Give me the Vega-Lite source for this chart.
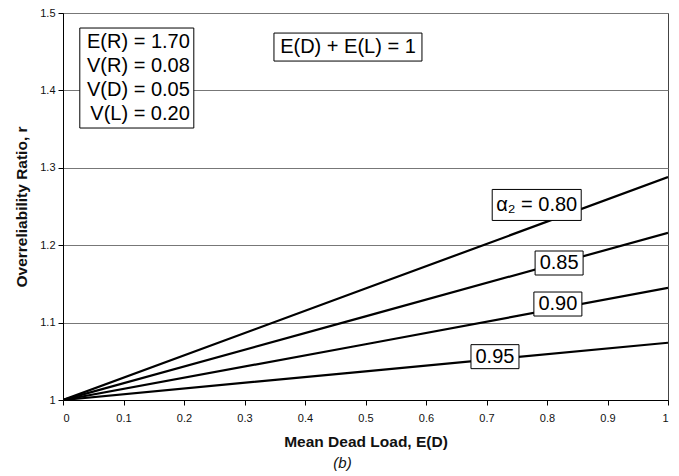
{
  "$schema": "https://vega.github.io/schema/vega-lite/v6.json",
  "width": 605,
  "height": 387,
  "autosize": "none",
  "padding": {"left": 63, "top": 13, "right": 11, "bottom": 76},
  "background": "white",
  "config": {
    "font": "Liberation Sans",
    "view": {"stroke": "#444", "strokeWidth": 1},
    "axis": {"labelFont": "Liberation Sans", "titleFont": "Liberation Sans", "labelColor": "#111", "titleColor": "#111", "domainColor": "#000", "tickColor": "#000"}
  },
  "title": {"text": "(b)", "orient": "bottom", "fontStyle": "italic", "fontWeight": "normal", "fontSize": 15, "font": "Liberation Sans", "color": "#111", "offset": 6, "dx": -23},
  "datasets": {
    "lines": [
      {"ED": 0, "r": 1, "alpha": "0.80"},
      {"ED": 0.5, "r": 1.144, "alpha": "0.80"},
      {"ED": 1, "r": 1.288, "alpha": "0.80"},
      {"ED": 0, "r": 1, "alpha": "0.85"},
      {"ED": 0.5, "r": 1.108, "alpha": "0.85"},
      {"ED": 1, "r": 1.216, "alpha": "0.85"},
      {"ED": 0, "r": 1, "alpha": "0.90"},
      {"ED": 0.5, "r": 1.072, "alpha": "0.90"},
      {"ED": 1, "r": 1.145, "alpha": "0.90"},
      {"ED": 0, "r": 1, "alpha": "0.95"},
      {"ED": 0.5, "r": 1.037, "alpha": "0.95"},
      {"ED": 1, "r": 1.074, "alpha": "0.95"}
    ],
    "labels": [
      {"ED": 0.783, "r": 1.252, "text": "α₂ = 0.80", "kind": "wide"},
      {"ED": 0.82, "r": 1.177, "text": "0.85", "kind": "small"},
      {"ED": 0.818, "r": 1.124, "text": "0.90", "kind": "small"},
      {"ED": 0.714, "r": 1.056, "text": "0.95", "kind": "small"},
      {"ED": 0.471, "r": 1.456, "text": "E(D) + E(L) = 1", "kind": "sum"}
    ],
    "params": [
      {"ED": 0.122, "r": 1.416, "text": "E(R) = 1.70\nV(R) = 0.08\nV(D) = 0.05\nV(L) = 0.20", "kind": "params"}
    ]
  },
  "layer": [
    {
      "data": {"name": "lines"},
      "mark": {"type": "line", "color": "#000", "strokeWidth": 2.2, "clip": true},
      "encoding": {
        "x": {"field": "ED", "type": "quantitative", "scale": {"domain": [0, 1], "nice": false},
          "axis": {"title": "Mean Dead Load, E(D)", "values": [0, 0.1, 0.2, 0.3, 0.4, 0.5, 0.6, 0.7, 0.8, 0.9, 1], "format": "~g", "grid": false, "labelFontSize": 11, "labelPadding": 7, "tickSize": 5, "titleFontSize": 15.5, "titleFontWeight": "bold", "titlePadding": 11}},
        "y": {"field": "r", "type": "quantitative", "scale": {"domain": [1, 1.5], "nice": false, "zero": false},
          "axis": {"title": "Overreliability Ratio, r", "values": [1, 1.1, 1.2, 1.3, 1.4, 1.5], "format": "~g", "grid": true, "gridColor": "#777", "gridWidth": 1, "gridOpacity": 1, "labelFontSize": 11, "labelPadding": 3, "tickSize": 5, "titleFontSize": 15.5, "titleFontWeight": "bold", "titlePadding": 10}},
        "detail": {"field": "alpha", "type": "nominal"}
      }
    },
    {
      "data": {"name": "labels"},
      "mark": {"type": "point", "filled": true, "fill": "white", "stroke": "#000", "strokeWidth": 1, "opacity": 1, "size": 10000},
      "encoding": {
        "x": {"field": "ED", "type": "quantitative"},
        "y": {"field": "r", "type": "quantitative"},
        "shape": {"field": "kind", "type": "nominal", "legend": null,
          "scale": {"domain": ["wide", "small", "sum"], "range": ["M-0.89,-0.31L0.89,-0.31L0.89,0.31L-0.89,0.31Z", "M-0.48,-0.24L0.48,-0.24L0.48,0.24L-0.48,0.24Z", "M-1.48,-0.28L1.48,-0.28L1.48,0.28L-1.48,0.28Z"]}}
      }
    },
    {
      "data": {"name": "labels"},
      "mark": {"type": "text", "fontSize": 20, "color": "#000", "align": "center", "baseline": "middle", "font": "Liberation Sans"},
      "encoding": {
        "x": {"field": "ED", "type": "quantitative"},
        "y": {"field": "r", "type": "quantitative"},
        "text": {"field": "text", "type": "nominal"}
      }
    },
    {
      "data": {"name": "params"},
      "mark": {"type": "point", "filled": true, "fill": "white", "stroke": "#000", "strokeWidth": 1, "opacity": 1, "size": 10000, "shape": "M-1.14,-1L1.14,-1L1.14,1L-1.14,1Z"},
      "encoding": {
        "x": {"field": "ED", "type": "quantitative"},
        "y": {"field": "r", "type": "quantitative"}
      }
    },
    {
      "data": {"name": "params"},
      "mark": {"type": "text", "fontSize": 20, "color": "#000", "align": "right", "baseline": "middle", "lineBreak": "\n", "lineHeight": 24, "dx": 53, "dy": -36, "font": "Liberation Sans"},
      "encoding": {
        "x": {"field": "ED", "type": "quantitative"},
        "y": {"field": "r", "type": "quantitative"},
        "text": {"field": "text", "type": "nominal"}
      }
    }
  ]
}
